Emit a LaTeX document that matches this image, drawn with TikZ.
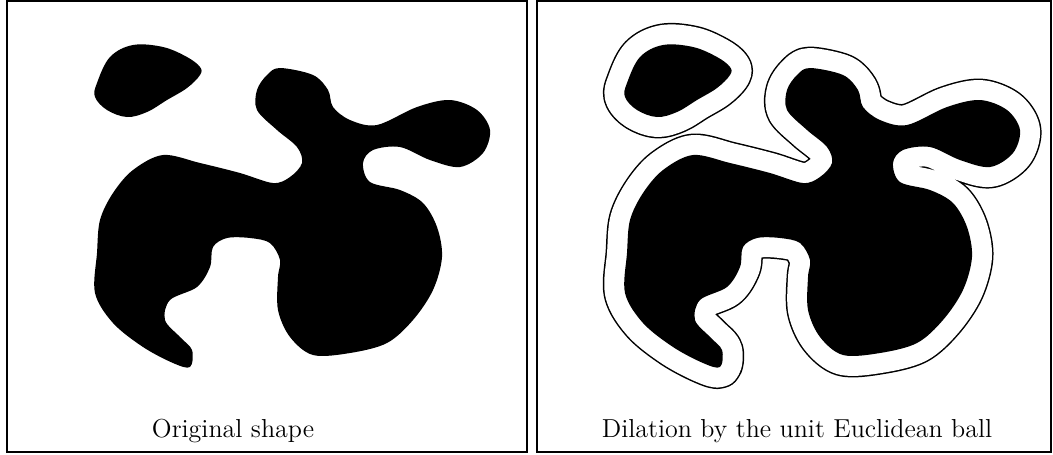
\documentclass[tikz,border=0pt]{standalone}
\usetikzlibrary{positioning}

% shapes, in pixel units of the panel
\def\islet{plot[smooth cycle, tension=0.6] coordinates {(95,97) (97,83) (110,57) (133,45) (163,47) (187,57) (200,67) (200,75) (187,88) (167,100) (147,112) (127,117) (107,110)}}
\def\mainland{plot[smooth cycle, tension=0.55] coordinates {(280,68) (313,75) (328,90) (333,107) (350,120) (377,125) (417,107) (450,100) (477,110) (490,130) (483,153) (460,167) (430,160) (400,147) (373,150) (363,163) (370,182) (400,190) (423,203) (437,227) (442,257) (433,290) (413,320) (387,343) (350,353) (313,355) (290,337) (278,310) (278,277) (280,260) (270,243) (250,238) (227,238) (213,247) (210,267) (197,287) (170,300) (165,320) (180,337) (192,350) (190,367) (173,363) (143,347) (113,323) (95,293) (97,253) (100,220) (113,193) (133,170) (163,155) (200,163) (240,173) (273,183) (290,177) (302,163) (297,147) (277,130) (257,110) (257,90) (267,75)}}

\tikzset{
  panel/.style={line width=0.9pt},
  caption/.style={anchor=base, inner sep=0pt, font=\fontsize{14.8}{18}\selectfont},
  halo/.style={line join=round, line width=24.4pt},
  gap/.style={line join=round, line width=22.7pt, draw=white, fill=white}
}

\begin{document}
\begin{tikzpicture}[x=0.02cm, y=-0.02cm]
  \useasboundingbox (0,0) rectangle (1053,454);
  \fill[white] (0,0) rectangle (1053,454);

  % left panel: original shape
  \draw[panel] (7,0.8) rectangle (527,452);
  \fill \islet;
  \fill \mainland;
  \node[caption] (origcap) at (233,437) {Original shape};

  % right panel: dilation
  \draw[panel] (537,0.8) rectangle (1051,452);
  \begin{scope}[shift={(530,0)}]
    \draw[halo] \islet;
    \draw[halo] \mainland;
    \fill \islet;
    \fill \mainland;
    \path[gap] \islet;
    \path[gap] \mainland;
    \fill \islet;
    \fill \mainland;
  \end{scope}
  \node[caption] (dilcap) at (797,437) {Dilation by the unit Euclidean ball};
\end{tikzpicture}
\end{document}
